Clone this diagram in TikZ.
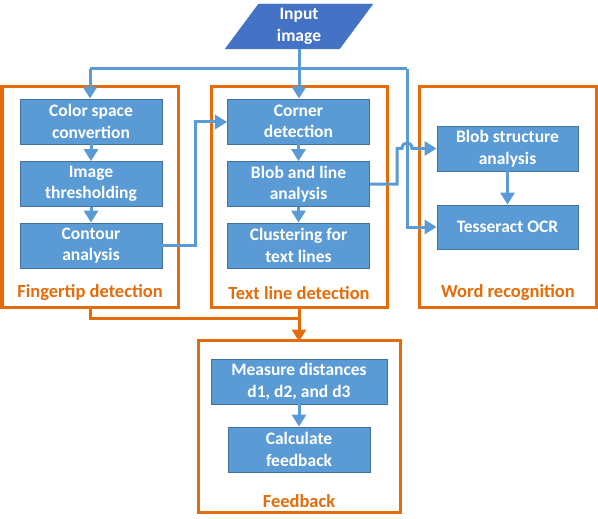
\documentclass[tikz,border=0pt]{standalone}
\usepackage{fontspec}
\setmainfont{Carlito}
\usetikzlibrary{arrows.meta,shapes.geometric}
\definecolor{boxblue}{HTML}{5B9BD5}
\definecolor{boxedge}{HTML}{41719C}
\definecolor{inblue}{HTML}{4472C4}
\definecolor{org}{RGB}{228,108,10}
\begin{document}
\begin{tikzpicture}[x=1pt,y=-1pt,
  proc/.style={draw=boxedge,line width=0.8pt,fill=boxblue,text=white,font=\bfseries\fontsize{17.5}{21.5}\selectfont,align=center,minimum width=142pt,minimum height=45pt,inner sep=0pt},
  group/.style={draw=org,line width=3pt},
  glabel/.style={text=org,font=\bfseries\fontsize{18.5}{20}\selectfont},
  conn/.style={draw=boxblue,line width=3pt,-{Triangle[length=12pt,width=14pt]}},
  plainconn/.style={draw=boxblue,line width=3pt},
  oconn/.style={draw=org,line width=3pt,-{Triangle[length=12pt,width=14pt]}},
  oline/.style={draw=org,line width=3pt}]
\useasboundingbox (0,0) rectangle (598,519);
% groups
\draw[group] (2,87) rectangle (178,307);
\draw[group] (211,87) rectangle (387,307);
\draw[group] (419,87) rectangle (596,307);
\draw[group] (198,340) rectangle (400,512);
\node[glabel] (lf) at (90,293) {Fingertip detection};
\node[glabel] (lt) at (299,293) {Text line detection};
\node[glabel] (lw) at (508,293) {Word recognition};
\node[glabel] (lfb) at (299,501) {Feedback};
% input
\node[trapezium,trapezium stretches=true,trapezium left angle=63,trapezium right angle=117,fill=inblue,draw=inblue,minimum width=148pt,minimum height=45pt,text=white,font=\bfseries\fontsize{17.5}{21.5}\selectfont,align=center,inner sep=0pt] (in) at (299,26.5) {Input\\image};
% boxes
\node[proc] (cs) at (91,121.5) {Color space\\convertion};
\node[proc] (it) at (91,184) {Image\\thresholding};
\node[proc] (ca) at (91,245.5) {Contour\\analysis};
\node[proc] (cd) at (298.5,121.5) {Corner\\detection};
\node[proc] (bl) at (298.5,184) {Blob and line\\analysis};
\node[proc] (cl) at (298.5,245.5) {Clustering for\\text lines};
\node[proc,minimum width=141pt] (bs) at (507.5,148.5) {Blob structure\\analysis};
\node[proc,minimum width=141pt,minimum height=44pt] (to) at (507.5,227) {Tesseract OCR};
\node[proc,minimum width=176pt] (md) at (299,381.5) {Measure distances\\d1, d2, and d3};
\node[proc] (cf) at (299,449.5) {Calculate\\feedback};
% coordinates
\coordinate (j1) at (299,69);
\coordinate (j2) at (90,69);
\coordinate (j3) at (407,69);
\coordinate (j4) at (407,227);
% input connectors
\draw[plainconn] (in.south -| j1) -- (j1);
\draw[conn] (j2) -- (cs.north -| j2);
\draw[plainconn] (j2) -- (j3);
\draw[conn] (j1) -- (cd.north -| j1);
\draw[conn] (j3) -- (j4) -- (to.west);
% internal arrows
\draw[conn] (cs) -- (it);
\draw[conn] (it) -- (ca);
\draw[conn] (cd) -- (bl);
\draw[conn] (bl) -- (cl);
\draw[conn] (bs) -- (to);
\draw[conn] (md.south -| cf) -- (cf);
% cross connectors
\coordinate (k1) at (195,245.5);
\coordinate (k2) at (195,122);
\draw[conn] (ca.east) -- (k1) -- (k2) -- (cd.west |- k2);
\coordinate (m1) at (397,184);
\coordinate (m2) at (397,148.5);
\coordinate (h1) at (402,148.5);
\coordinate (h2) at (412,148.5);
\draw[conn] (bl.east) -- (m1) -- (m2) -- (h1) .. controls (402,141) and (412,141) .. (h2) -- (bs.west);
% orange
\coordinate (o1) at (90,307);
\coordinate (o2) at (90,318);
\coordinate (o3) at (299,318);
\draw[oline] (o1) -- (o2) -- (o3);
\draw[oconn] (299,307) -- (299,341.5);
\end{tikzpicture}
\end{document}
